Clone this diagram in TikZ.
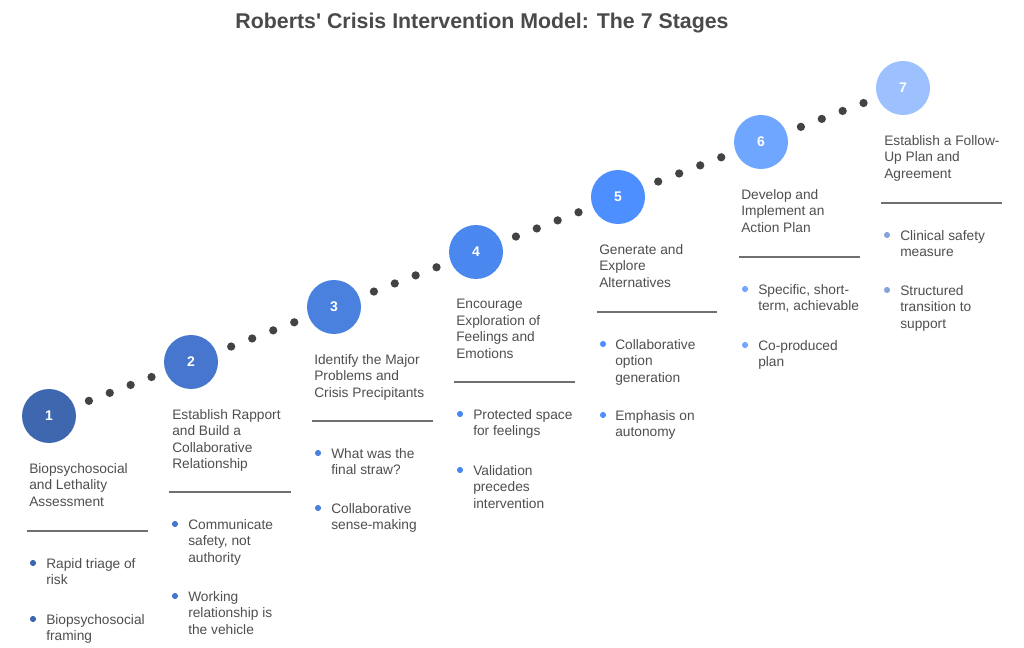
\documentclass[tikz,border=0pt]{standalone}
\usepackage{fontspec}
\setmainfont{Liberation Sans}
\usetikzlibrary{calc}
\definecolor{txt}{HTML}{4F4F4F}
\definecolor{hd}{HTML}{4A4A4A}
\definecolor{dotc}{HTML}{434343}
\definecolor{sepc}{HTML}{707070}
\definecolor{cA}{HTML}{3F67B0}
\definecolor{cB}{HTML}{4676CE}
\definecolor{cC}{HTML}{4A80DE}
\definecolor{cD}{HTML}{4A88F0}
\definecolor{cE}{HTML}{4D8FFF}
\definecolor{cF}{HTML}{6FA6FF}
\definecolor{cG}{HTML}{9DC1FF}
\tikzset{
  stepcirc/.style={circle, minimum size=40.5pt, inner sep=0pt, text=white, font=\fontsize{10.5}{12}\selectfont\bfseries},
  ttl/.style={anchor=north west, inner sep=0pt, align=left, text=txt, font=\fontsize{10.3}{12.4}\selectfont},
  btxt/.style={anchor=north west, inner sep=0pt, align=left, text=txt, font=\fontsize{10.3}{12.4}\selectfont},
  sepline/.style={draw=sepc, line width=0.8pt},
  pdot/.style={fill=dotc},
}
\newcommand{\connect}[2]{%
  \foreach \t in {0.281,0.428,0.575,0.722} \fill[pdot] ($(#1)!\t!(#2)$) circle[radius=3.1pt];}
\begin{document}
\begin{tikzpicture}[x=0.75pt,y=-0.75pt]
\useasboundingbox[fill=white] (0,0) rectangle (1024,648);
\node[text=hd, font=\fontsize{16}{18}\selectfont\bfseries] (title) at (482,23) {Roberts\textquotesingle{} Crisis Intervention Model: The 7 Stages};
% circles
\node[stepcirc, fill=cA] (c1) at (49,416) {1};
\node[stepcirc, fill=cB] (c2) at (191,362) {2};
\node[stepcirc, fill=cC] (c3) at (334,307) {3};
\node[stepcirc, fill=cD] (c4) at (476,252) {4};
\node[stepcirc, fill=cE] (c5) at (618,197) {5};
\node[stepcirc, fill=cF] (c6) at (761,142) {6};
\node[stepcirc, fill=cG] (c7) at (903,88) {7};
\connect{c1}{c2}
\connect{c2}{c3}
\connect{c3}{c4}
\connect{c4}{c5}
\connect{c5}{c6}
\connect{c6}{c7}
% stage 1
\node[ttl] (t1) at (29,463) {Biopsychosocial\\and Lethality\\Assessment};
\coordinate (s1a) at (27,531); \coordinate (s1b) at (148,531);
\draw[sepline] (s1a) -- (s1b);
\fill[cA] (33,563) circle[radius=2.3pt];
\node[btxt] (b1a) at (46,558) {Rapid triage of\\risk};
\fill[cA] (33,619) circle[radius=2.3pt];
\node[btxt] (b1b) at (46,614) {Biopsychosocial\\framing};
% stage 2
\node[ttl] (t2) at (172,409) {Establish Rapport\\and Build a\\Collaborative\\Relationship};
\coordinate (s2a) at (169,492); \coordinate (s2b) at (291,492);
\draw[sepline] (s2a) -- (s2b);
\fill[cB] (175,524) circle[radius=2.3pt];
\node[btxt] (b2a) at (188,519) {Communicate\\safety, not\\authority};
\fill[cB] (175,596) circle[radius=2.3pt];
\node[btxt] (b2b) at (188,591) {Working\\relationship is\\the vehicle};
% stage 3
\node[ttl] (t3) at (314,354) {Identify the Major\\Problems and\\Crisis Precipitants};
\coordinate (s3a) at (312,421); \coordinate (s3b) at (433,421);
\draw[sepline] (s3a) -- (s3b);
\fill[cC] (318,453) circle[radius=2.3pt];
\node[btxt] (b3a) at (331,448) {What was the\\final straw?};
\fill[cC] (318,508) circle[radius=2.3pt];
\node[btxt] (b3b) at (331,503) {Collaborative\\sense-making};
% stage 4
\node[ttl] (t4) at (456,299) {Encourage\\Exploration of\\Feelings and\\Emotions};
\coordinate (s4a) at (454,382); \coordinate (s4b) at (575,382);
\draw[sepline] (s4a) -- (s4b);
\fill[cD] (460,414) circle[radius=2.3pt];
\node[btxt] (b4a) at (473,409) {Protected space\\for feelings};
\fill[cD] (460,470) circle[radius=2.3pt];
\node[btxt] (b4b) at (473,465) {Validation\\precedes\\intervention};
% stage 5
\node[ttl] (t5) at (599,244) {Generate and\\Explore\\Alternatives};
\coordinate (s5a) at (597,312); \coordinate (s5b) at (717,312);
\draw[sepline] (s5a) -- (s5b);
\fill[cE] (603,344) circle[radius=2.3pt];
\node[btxt] (b5a) at (615,339) {Collaborative\\option\\generation};
\fill[cE] (603,415) circle[radius=2.3pt];
\node[btxt] (b5b) at (615,410) {Emphasis on\\autonomy};
% stage 6
\node[ttl] (t6) at (741,189) {Develop and\\Implement an\\Action Plan};
\coordinate (s6a) at (739,257); \coordinate (s6b) at (860,257);
\draw[sepline] (s6a) -- (s6b);
\fill[cF] (745,289) circle[radius=2.3pt];
\node[btxt] (b6a) at (758,284) {Specific, short-\\term, achievable};
\fill[cF] (745,345) circle[radius=2.3pt];
\node[btxt] (b6b) at (758,340) {Co-produced\\plan};
% stage 7
\node[ttl] (t7) at (884,135) {Establish a Follow-\\Up Plan and\\Agreement};
\coordinate (s7a) at (881,203); \coordinate (s7b) at (1002,203);
\draw[sepline] (s7a) -- (s7b);
\fill[cG!85!black] (887,235) circle[radius=2.3pt];
\node[btxt] (b7a) at (900,230) {Clinical safety\\measure};
\fill[cG!85!black] (887,290) circle[radius=2.3pt];
\node[btxt] (b7b) at (900,285) {Structured\\transition to\\support};
\end{tikzpicture}
\end{document}
